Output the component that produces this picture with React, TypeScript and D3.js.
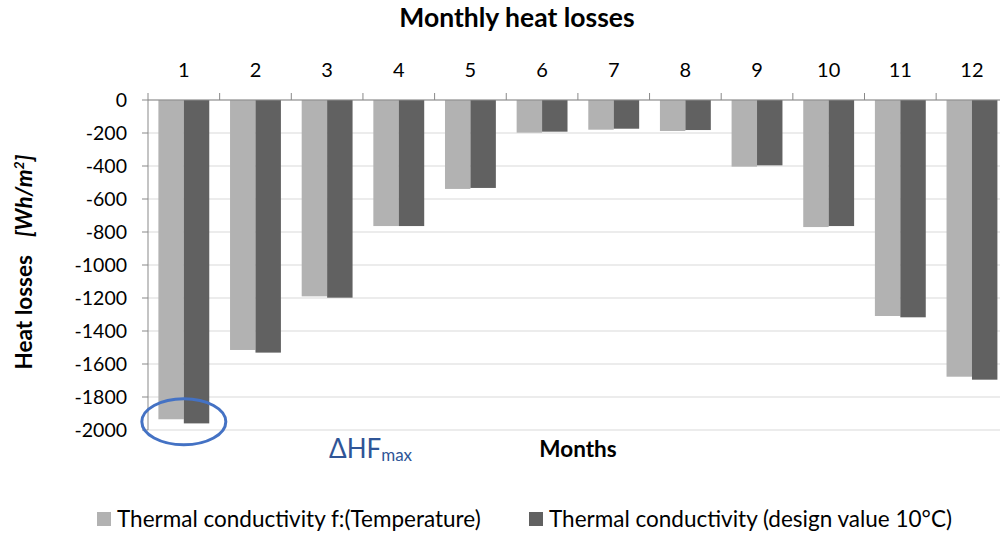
import { scaleBand, scaleLinear, range as d3range } from "d3";

const months = ["1", "2", "3", "4", "5", "6", "7", "8", "9", "10", "11", "12"];
const tempDependent = [-1935, -1515, -1190, -764, -539, -198, -180, -188, -404, -770, -1309, -1677];
const designValue = [-1960, -1531, -1198, -764, -533, -192, -174, -182, -396, -764, -1317, -1695];
const seriesNames = [
	"Thermal conductivity f:(Temperature)",
	"Thermal conductivity (design value 10°C)",
];
const yTicks = d3range(0, -2001, -200);

const colors = ["#b2b2b2", "#616161"];
const font = "Lato, 'Open Sans', sans-serif";

export default function App() {
	let width = 1000;
	let height = 533;
	let margin = { top: 100, left: 148, bottom: 103 };
	let step = 71.65;

	let xScale = scaleBand<string>()
		.domain(months)
		.range([margin.left, margin.left + step * months.length])
		.paddingInner(0.29)
		.paddingOuter(0.145);
	let sub = scaleBand<number>().domain([0, 1]).range([0, xScale.bandwidth()]);
	let yScale = scaleLinear()
		.domain([-2000, 0])
		.range([height - margin.bottom, margin.top]);

	let series = [tempDependent, designValue];
	let tickX = d3range(0, months.length + 1).map((i) => margin.left + i * step);
	let plotRight = margin.left + step * months.length;

	return (
		<svg
			width={width}
			height={height}
			style={{ position: "absolute", left: 0, top: 0, background: "#fff" }}
			fontFamily={font}
		>
			<text x={517} y={27} textAnchor="middle" fontSize={26.5} fontWeight="bold">
				Monthly heat losses
			</text>

			{/* gridlines */}
			{yTicks.map((t) => (
				<line
					key={t}
					x1={margin.left}
					x2={plotRight}
					y1={yScale(t)}
					y2={yScale(t)}
					stroke="#d9d9d9"
					strokeWidth={1}
				/>
			))}

			{/* bars */}
			{series.map((vals, si) =>
				vals.map((v, i) => (
					<rect
						key={si + "-" + i}
						x={xScale(months[i])! + sub(si)!}
						y={yScale(0)}
						width={sub.bandwidth()}
						height={yScale(v) - yScale(0)}
						fill={colors[si]}
					/>
				))
			)}

			{/* axes */}
			<line
				x1={margin.left}
				x2={plotRight}
				y1={yScale(0)}
				y2={yScale(0)}
				stroke="#898989"
				strokeWidth={1}
			/>
			{tickX.map((x, i) => (
				<line key={i} x1={x} x2={x} y1={yScale(0) - 7} y2={yScale(0)} stroke="#898989" />
			))}
			<line
				x1={margin.left}
				x2={margin.left}
				y1={yScale(0)}
				y2={yScale(-2000)}
				stroke="#898989"
			/>
			{yTicks.map((t) => (
				<g key={t}>
					<line
						x1={margin.left - 6}
						x2={margin.left}
						y1={yScale(t)}
						y2={yScale(t)}
						stroke="#898989"
					/>
					<text
						x={margin.left - 21}
						y={yScale(t)}
						dy="0.35em"
						textAnchor="end"
						fontSize={19.5}
						fill="#000"
					>
						{t}
					</text>
				</g>
			))}
			{months.map((m) => (
				<text
					key={m}
					x={xScale(m)! + xScale.bandwidth() / 2}
					y={70}
					dy="0.35em"
					textAnchor="middle"
					fontSize={20}
				>
					{m}
				</text>
			))}

			{/* axis titles */}
			<text
				transform={`translate(32,262) rotate(-90)`}
				textAnchor="middle"
				fontSize={22.5}
				fontWeight="bold"
			>
				Heat losses
				<tspan dx={18} fontStyle="italic">
					[Wh/m
					<tspan dy={-8} fontSize={14}>
						2
					</tspan>
					<tspan dy={8}>]</tspan>
				</tspan>
			</text>
			<text x={578} y={457} textAnchor="middle" fontSize={22.5} fontWeight="bold">
				Months
			</text>

			{/* annotation */}
			<ellipse
				cx={xScale("1")! + xScale.bandwidth() / 2}
				cy={yScale(-1950)}
				rx={42}
				ry={23}
				fill="none"
				stroke="#4472c4"
				strokeWidth={3}
			/>
			<text x={329} y={458} fontSize={26} fill="#2f5597">
				ΔHF
				<tspan fontSize={17} dy={3}>
					max
				</tspan>
			</text>

			{/* legend */}
			{seriesNames.map((name, i) => {
				let lx = [97, 529][i];
				return (
					<g key={name}>
						<rect x={lx} y={512} width={14} height={14} fill={colors[i]} />
						<text x={lx + 20} y={519} dy="0.35em" fontSize={22.5}>
							{name}
						</text>
					</g>
				);
			})}
		</svg>
	);
}
